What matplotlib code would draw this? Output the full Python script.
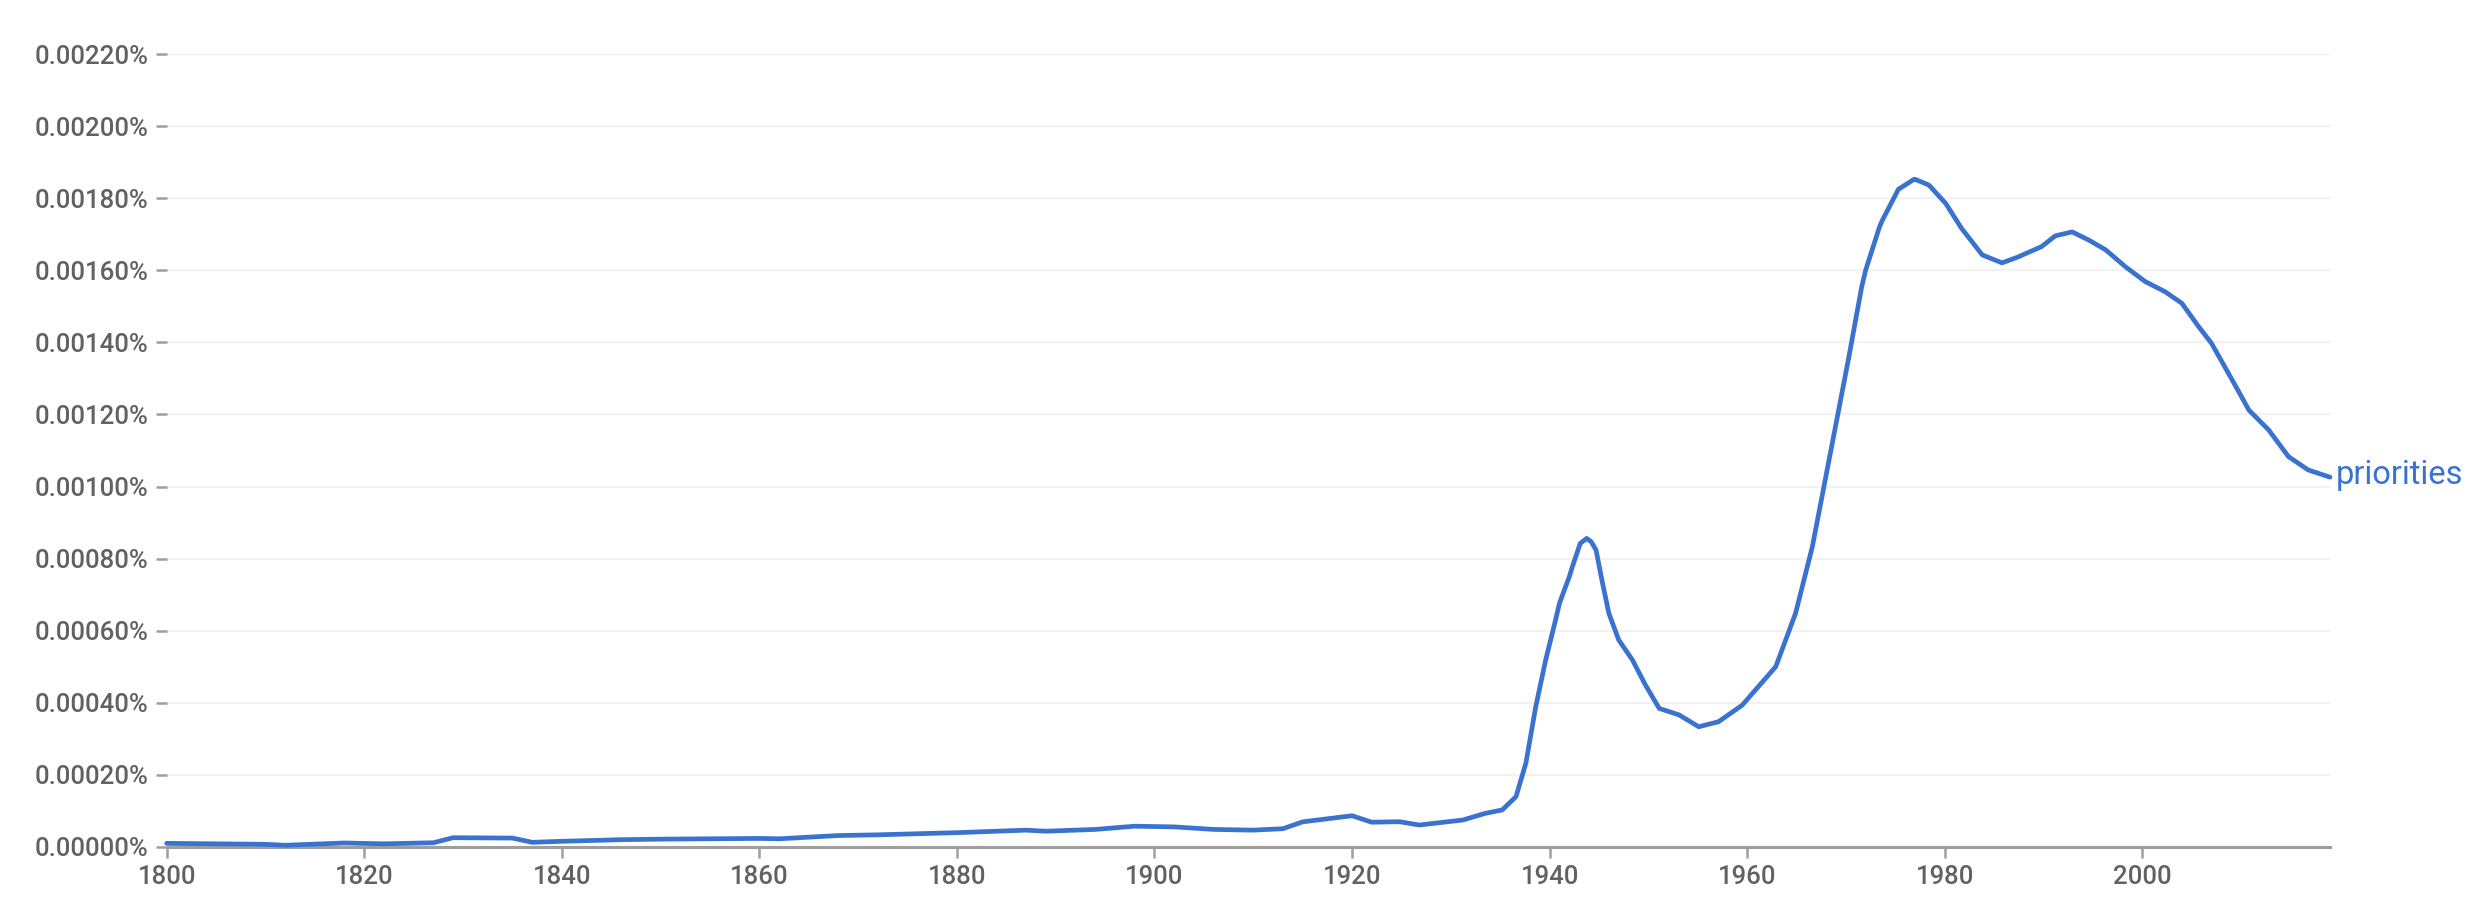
import numpy as np
import matplotlib.pyplot as plt
from matplotlib.ticker import FuncFormatter, MultipleLocator

plt.rcParams['font.family'] = ['Roboto', 'DejaVu Sans']

# values (percent of all words, as fractions of 1 %)
years = [1800, 1810, 1812, 1818, 1822, 1827, 1829, 1835, 1837, 1840, 1846, 1850,
         1860, 1862, 1868, 1872, 1880, 1887, 1889, 1894, 1898, 1902, 1906, 1910,
         1913, 1915, 1920, 1922, 1924.8, 1926.8, 1931.2, 1933.5, 1935.2, 1936.6,
         1937.6, 1938.6, 1939.6, 1940.6, 1941.0, 1942.0, 1942.3, 1943.1, 1943.75,
         1944.2, 1944.7, 1945.3, 1946.0, 1947.0,
         1948.4, 1949.7, 1951.1, 1953.1, 1955.1, 1957.1, 1959.5, 1962.9, 1964.9,
         1966.6, 1967.9, 1970.3, 1971.6, 1972.0, 1973.4, 1973.7, 1975.1, 1975.3,
         1976.9, 1977.0, 1978.4, 1980.1,
         1981.7, 1983.8, 1985.8, 1987.5, 1987.8, 1989.8, 1991.2, 1992.9, 1994.6,
         1996.3, 1998.3, 2000.3, 2002.3, 2004.0, 2005.7, 2007.0, 2009.1, 2010.8,
         2012.8, 2014.8, 2016.8, 2019.0]
priorities = [0.0000093, 0.0000067, 0.0000040, 0.0000103, 0.0000080, 0.0000110,
              0.0000250, 0.0000240, 0.0000122, 0.0000150, 0.0000195, 0.0000210,
              0.0000230, 0.0000220, 0.0000310, 0.0000330, 0.0000390, 0.0000460,
              0.0000430, 0.0000480, 0.0000570, 0.0000550, 0.0000480, 0.0000460,
              0.0000500, 0.0000690, 0.0000860, 0.0000680, 0.0000694, 0.0000602,
              0.0000740, 0.0000927, 0.0001020, 0.0001390, 0.0002320, 0.0003890,
              0.0005180, 0.0006290, 0.0006760, 0.0007500, 0.0007770, 0.0008420,
              0.0008560, 0.0008470, 0.0008240, 0.0007400, 0.0006480, 0.0005740,
              0.0005180, 0.0004490, 0.0003840, 0.0003660, 0.0003330, 0.0003470,
              0.0003930, 0.0005000, 0.0006480, 0.0008330, 0.0010180, 0.0013600,
              0.0015550, 0.0016010, 0.0017210, 0.0017400, 0.0018140, 0.0018250,
              0.0018530, 0.0018530, 0.0018370, 0.0017860,
              0.0017170, 0.0016430, 0.0016210, 0.0016380, 0.0016420, 0.0016660,
              0.0016960, 0.0017070, 0.0016840, 0.0016570, 0.0016100, 0.0015690,
              0.0015410, 0.0015090, 0.0014440, 0.0013980, 0.0012960, 0.0012120,
              0.0011570, 0.0010830, 0.0010460, 0.0010260]
label = "priorities"

blue = '#3a72cf'
grey_text = '#616161'

fig = plt.figure(figsize=(24.8, 9.08), dpi=100)
ax = fig.add_axes([0.0672, 0.0675, 0.9395 - 0.0672, 0.9402 - 0.0675])

ax.plot(years, priorities, color=blue, lw=3.4, solid_capstyle='round',
        solid_joinstyle='round', zorder=3, clip_on=False)
ax.text(years[-1] + 0.6, priorities[-1] + 0.000005, label, color=blue,
        fontsize=23.5, va='center', ha='left')

ax.set_xlim(1800, 2019)
ax.set_ylim(0, 0.0022)
ax.xaxis.set_major_locator(MultipleLocator(20))
ax.yaxis.set_major_locator(MultipleLocator(0.0002))
ax.yaxis.set_major_formatter(FuncFormatter(lambda v, p: f"{v:.5f}%"))

ax.grid(axis='y', color='#f2f2f2', lw=1.6)
ax.set_axisbelow(True)
for s in ['top', 'right', 'left']:
    ax.spines[s].set_visible(False)
ax.spines['bottom'].set_color('#9e9e9e')
ax.spines['bottom'].set_linewidth(2.2)

ax.tick_params(axis='both', length=8, width=1.8, color='#9e9e9e', pad=5,
               labelsize=18.5, labelcolor=grey_text)
for t in ax.get_xticklabels() + ax.get_yticklabels():
    t.set_fontweight('medium')

fig.savefig("out.png", dpi=100)
